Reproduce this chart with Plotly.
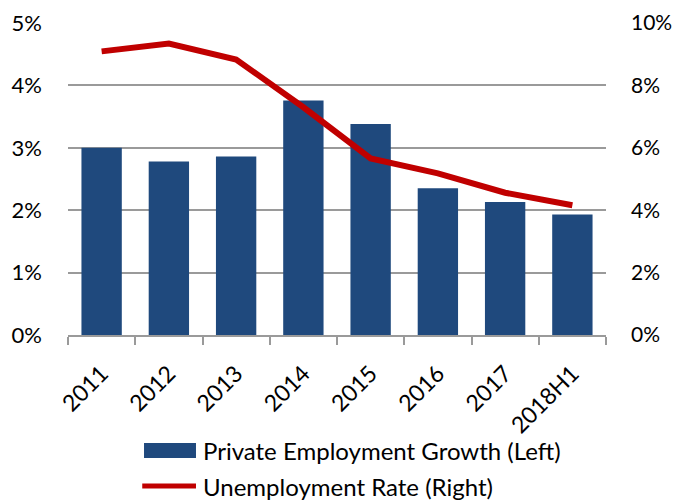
import plotly.graph_objects as go

categories = ["2011", "2012", "2013", "2014", "2015", "2016", "2017", "2018H1"]
private_employment_growth = [3.00, 2.78, 2.86, 3.76, 3.38, 2.35, 2.13, 1.93]
unemployment_rate = [9.09, 9.34, 8.83, 7.30, 5.66, 5.18, 4.56, 4.16]
bar_name = "Private Employment Growth (Left)"
line_name = "Unemployment Rate (Right)"

FONT = "Lato"
BAR_COLOR = "#1F497D"
LINE_COLOR = "#C00000"
GRID = "#9A9A9A"

fig = go.Figure()
fig.add_trace(go.Bar(
    x=categories, y=private_employment_growth,
    name=bar_name,
    marker=dict(color=BAR_COLOR, line=dict(width=0)),
    yaxis="y",
))
fig.add_trace(go.Scatter(
    x=categories, y=unemployment_rate,
    name=line_name,
    mode="lines",
    line=dict(color=LINE_COLOR, width=6),
    yaxis="y2",
))

# manual legend (paper coordinates)
fig.add_shape(type="rect", xref="paper", yref="paper",
              x0=0.1413, x1=0.2379, y0=-0.394, y1=-0.346,
              fillcolor=BAR_COLOR, line=dict(width=0))
fig.add_shape(type="line", xref="paper", yref="paper",
              x0=0.138, x1=0.2379, y0=-0.484, y1=-0.484,
              line=dict(color=LINE_COLOR, width=5))
fig.add_annotation(text=bar_name, xref="paper", yref="paper",
                   x=0.2472, y=-0.370, xanchor="left", yanchor="middle",
                   showarrow=False, font=dict(family=FONT, size=24, color="#000"))
fig.add_annotation(text=line_name, xref="paper", yref="paper",
                   x=0.2472, y=-0.484, xanchor="left", yanchor="middle",
                   showarrow=False, font=dict(family=FONT, size=24, color="#000"))

fig.update_layout(
    width=676, height=500,
    margin=dict(l=68, r=70, t=23, b=165, autoexpand=False),
    paper_bgcolor="white", plot_bgcolor="white",
    font=dict(family=FONT, size=21, color="#000000"),
    bargap=0.4,
    showlegend=False,
    xaxis=dict(
        type="category", automargin=False,
        showline=True, linecolor=GRID, linewidth=2,
        ticks="outside", tickson="boundaries", ticklen=8, tickcolor=GRID, tickwidth=2,
        tickangle=-45, ticklabelstandoff=14,
        tickfont=dict(family=FONT, size=23),
        showgrid=False,
    ),
    yaxis=dict(
        range=[0, 5], dtick=1, ticksuffix="%", automargin=False,
        showgrid=True, gridcolor=GRID, gridwidth=2,
        zeroline=False, showline=False,
        ticklabelstandoff=25,
        tickfont=dict(family=FONT, size=22),
    ),
    yaxis2=dict(
        range=[0, 10], dtick=2, ticksuffix="%", automargin=False,
        overlaying="y", side="right",
        showgrid=False, zeroline=False, showline=False,
        ticklabelstandoff=24,
        tickfont=dict(family=FONT, size=21),
    ),
)

fig.write_html("out.html")
